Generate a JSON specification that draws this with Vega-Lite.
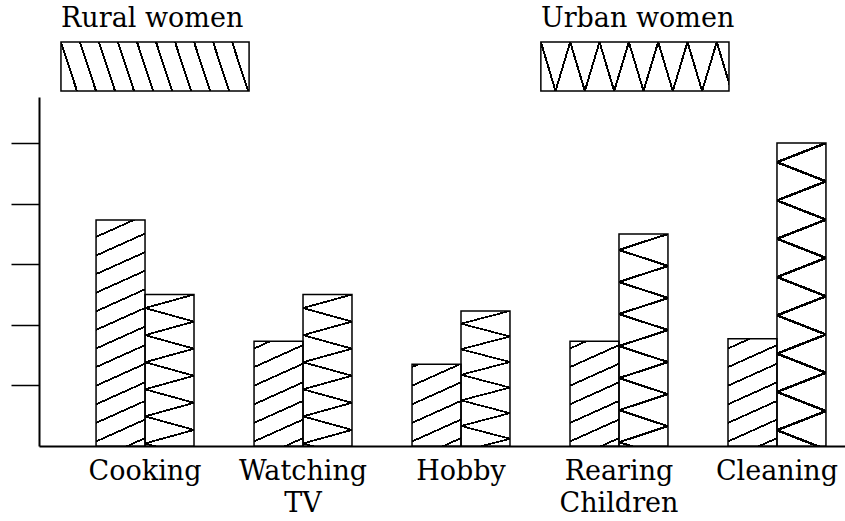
{
  "$schema": "https://vega.github.io/schema/vega-lite/v6.json",
  "padding": {"left": 10, "top": 4, "right": 0, "bottom": 0},
  "background": "white",
  "config": {"font": "DejaVu Serif", "view": {"stroke": null}, "concat": {"spacing": 5},
             "axis": {"labelFont": "DejaVu Serif", "labelLimit": 0}},
  "params": [
    {"name": "ruralStops", "value": [
      {"offset": 0, "color": "white"},
      {"offset": 0.0266, "color": "white"}, {"offset": 0.0266, "color": "black"}, {"offset": 0.0342, "color": "black"}, {"offset": 0.0342, "color": "white"},
      {"offset": 0.0980, "color": "white"}, {"offset": 0.0980, "color": "black"}, {"offset": 0.1056, "color": "black"}, {"offset": 0.1056, "color": "white"},
      {"offset": 0.1694, "color": "white"}, {"offset": 0.1694, "color": "black"}, {"offset": 0.1770, "color": "black"}, {"offset": 0.1770, "color": "white"},
      {"offset": 0.2408, "color": "white"}, {"offset": 0.2408, "color": "black"}, {"offset": 0.2484, "color": "black"}, {"offset": 0.2484, "color": "white"},
      {"offset": 0.3123, "color": "white"}, {"offset": 0.3123, "color": "black"}, {"offset": 0.3199, "color": "black"}, {"offset": 0.3199, "color": "white"},
      {"offset": 0.3837, "color": "white"}, {"offset": 0.3837, "color": "black"}, {"offset": 0.3913, "color": "black"}, {"offset": 0.3913, "color": "white"},
      {"offset": 0.4551, "color": "white"}, {"offset": 0.4551, "color": "black"}, {"offset": 0.4627, "color": "black"}, {"offset": 0.4627, "color": "white"},
      {"offset": 0.5266, "color": "white"}, {"offset": 0.5266, "color": "black"}, {"offset": 0.5342, "color": "black"}, {"offset": 0.5342, "color": "white"},
      {"offset": 0.5980, "color": "white"}, {"offset": 0.5980, "color": "black"}, {"offset": 0.6056, "color": "black"}, {"offset": 0.6056, "color": "white"},
      {"offset": 0.6694, "color": "white"}, {"offset": 0.6694, "color": "black"}, {"offset": 0.6770, "color": "black"}, {"offset": 0.6770, "color": "white"},
      {"offset": 0.7408, "color": "white"}, {"offset": 0.7408, "color": "black"}, {"offset": 0.7484, "color": "black"}, {"offset": 0.7484, "color": "white"},
      {"offset": 0.8123, "color": "white"}, {"offset": 0.8123, "color": "black"}, {"offset": 0.8199, "color": "black"}, {"offset": 0.8199, "color": "white"},
      {"offset": 0.8837, "color": "white"}, {"offset": 0.8837, "color": "black"}, {"offset": 0.8913, "color": "black"}, {"offset": 0.8913, "color": "white"},
      {"offset": 0.9551, "color": "white"}, {"offset": 0.9551, "color": "black"}, {"offset": 0.9627, "color": "black"}, {"offset": 0.9627, "color": "white"}
    ]},
    {"name": "urbanA", "value": [
      {"offset": 0, "color": "white"},
      {"offset": 0.0465, "color": "white"}, {"offset": 0.0465, "color": "black"}, {"offset": 0.0535, "color": "black"}, {"offset": 0.0535, "color": "white"},
      {"offset": 0.1465, "color": "white"}, {"offset": 0.1465, "color": "black"}, {"offset": 0.1535, "color": "black"}, {"offset": 0.1535, "color": "white"},
      {"offset": 0.2465, "color": "white"}, {"offset": 0.2465, "color": "black"}, {"offset": 0.2535, "color": "black"}, {"offset": 0.2535, "color": "white"},
      {"offset": 0.3465, "color": "white"}, {"offset": 0.3465, "color": "black"}, {"offset": 0.3535, "color": "black"}, {"offset": 0.3535, "color": "white"},
      {"offset": 0.4465, "color": "white"}, {"offset": 0.4465, "color": "black"}, {"offset": 0.4535, "color": "black"}, {"offset": 0.4535, "color": "white"},
      {"offset": 0.5465, "color": "white"}, {"offset": 0.5465, "color": "black"}, {"offset": 0.5535, "color": "black"}, {"offset": 0.5535, "color": "white"},
      {"offset": 0.6465, "color": "white"}, {"offset": 0.6465, "color": "black"}, {"offset": 0.6535, "color": "black"}, {"offset": 0.6535, "color": "white"},
      {"offset": 0.7465, "color": "white"}, {"offset": 0.7465, "color": "black"}, {"offset": 0.7535, "color": "black"}, {"offset": 0.7535, "color": "white"},
      {"offset": 0.8465, "color": "white"}, {"offset": 0.8465, "color": "black"}, {"offset": 0.8535, "color": "black"}, {"offset": 0.8535, "color": "white"},
      {"offset": 0.9465, "color": "white"}, {"offset": 0.9465, "color": "black"}, {"offset": 0.9535, "color": "black"}, {"offset": 0.9535, "color": "white"}
    ]},
    {"name": "urbanB", "value": [
      {"offset": 0, "color": "rgba(0,0,0,0)"},
      {"offset": 0.0965, "color": "rgba(0,0,0,0)"}, {"offset": 0.0965, "color": "black"}, {"offset": 0.1035, "color": "black"}, {"offset": 0.1035, "color": "rgba(0,0,0,0)"},
      {"offset": 0.1965, "color": "rgba(0,0,0,0)"}, {"offset": 0.1965, "color": "black"}, {"offset": 0.2035, "color": "black"}, {"offset": 0.2035, "color": "rgba(0,0,0,0)"},
      {"offset": 0.2965, "color": "rgba(0,0,0,0)"}, {"offset": 0.2965, "color": "black"}, {"offset": 0.3035, "color": "black"}, {"offset": 0.3035, "color": "rgba(0,0,0,0)"},
      {"offset": 0.3965, "color": "rgba(0,0,0,0)"}, {"offset": 0.3965, "color": "black"}, {"offset": 0.4035, "color": "black"}, {"offset": 0.4035, "color": "rgba(0,0,0,0)"},
      {"offset": 0.4965, "color": "rgba(0,0,0,0)"}, {"offset": 0.4965, "color": "black"}, {"offset": 0.5035, "color": "black"}, {"offset": 0.5035, "color": "rgba(0,0,0,0)"},
      {"offset": 0.5965, "color": "rgba(0,0,0,0)"}, {"offset": 0.5965, "color": "black"}, {"offset": 0.6035, "color": "black"}, {"offset": 0.6035, "color": "rgba(0,0,0,0)"},
      {"offset": 0.6965, "color": "rgba(0,0,0,0)"}, {"offset": 0.6965, "color": "black"}, {"offset": 0.7035, "color": "black"}, {"offset": 0.7035, "color": "rgba(0,0,0,0)"},
      {"offset": 0.7965, "color": "rgba(0,0,0,0)"}, {"offset": 0.7965, "color": "black"}, {"offset": 0.8035, "color": "black"}, {"offset": 0.8035, "color": "rgba(0,0,0,0)"},
      {"offset": 0.8965, "color": "rgba(0,0,0,0)"}, {"offset": 0.8965, "color": "black"}, {"offset": 0.9035, "color": "black"}, {"offset": 0.9035, "color": "rgba(0,0,0,0)"}
    ]},
    {"name": "legRural", "value": [
      {"offset": 0, "color": "white"},
      {"offset": 0.0734, "color": "white"}, {"offset": 0.0734, "color": "black"}, {"offset": 0.0834, "color": "black"}, {"offset": 0.0834, "color": "white"},
      {"offset": 0.1666, "color": "white"}, {"offset": 0.1666, "color": "black"}, {"offset": 0.1766, "color": "black"}, {"offset": 0.1766, "color": "white"},
      {"offset": 0.2597, "color": "white"}, {"offset": 0.2597, "color": "black"}, {"offset": 0.2697, "color": "black"}, {"offset": 0.2697, "color": "white"},
      {"offset": 0.3528, "color": "white"}, {"offset": 0.3528, "color": "black"}, {"offset": 0.3628, "color": "black"}, {"offset": 0.3628, "color": "white"},
      {"offset": 0.4460, "color": "white"}, {"offset": 0.4460, "color": "black"}, {"offset": 0.4560, "color": "black"}, {"offset": 0.4560, "color": "white"},
      {"offset": 0.5391, "color": "white"}, {"offset": 0.5391, "color": "black"}, {"offset": 0.5491, "color": "black"}, {"offset": 0.5491, "color": "white"},
      {"offset": 0.6323, "color": "white"}, {"offset": 0.6323, "color": "black"}, {"offset": 0.6423, "color": "black"}, {"offset": 0.6423, "color": "white"},
      {"offset": 0.7254, "color": "white"}, {"offset": 0.7254, "color": "black"}, {"offset": 0.7354, "color": "black"}, {"offset": 0.7354, "color": "white"},
      {"offset": 0.8185, "color": "white"}, {"offset": 0.8185, "color": "black"}, {"offset": 0.8285, "color": "black"}, {"offset": 0.8285, "color": "white"},
      {"offset": 0.9117, "color": "white"}, {"offset": 0.9117, "color": "black"}, {"offset": 0.9217, "color": "black"}, {"offset": 0.9217, "color": "white"}
    ]},
    {"name": "legUrbanA", "value": [
      {"offset": 0, "color": "white"},
      {"offset": 0.0664, "color": "white"}, {"offset": 0.0664, "color": "black"}, {"offset": 0.0764, "color": "black"}, {"offset": 0.0764, "color": "white"},
      {"offset": 0.2093, "color": "white"}, {"offset": 0.2093, "color": "black"}, {"offset": 0.2193, "color": "black"}, {"offset": 0.2193, "color": "white"},
      {"offset": 0.3521, "color": "white"}, {"offset": 0.3521, "color": "black"}, {"offset": 0.3621, "color": "black"}, {"offset": 0.3621, "color": "white"},
      {"offset": 0.4950, "color": "white"}, {"offset": 0.4950, "color": "black"}, {"offset": 0.5050, "color": "black"}, {"offset": 0.5050, "color": "white"},
      {"offset": 0.6379, "color": "white"}, {"offset": 0.6379, "color": "black"}, {"offset": 0.6479, "color": "black"}, {"offset": 0.6479, "color": "white"},
      {"offset": 0.7807, "color": "white"}, {"offset": 0.7807, "color": "black"}, {"offset": 0.7907, "color": "black"}, {"offset": 0.7907, "color": "white"},
      {"offset": 0.9236, "color": "white"}, {"offset": 0.9236, "color": "black"}, {"offset": 0.9336, "color": "black"}, {"offset": 0.9336, "color": "white"}
    ]},
    {"name": "legUrbanB", "value": [
      {"offset": 0, "color": "rgba(0,0,0,0)"},
      {"offset": 0.1379, "color": "rgba(0,0,0,0)"}, {"offset": 0.1379, "color": "black"}, {"offset": 0.1479, "color": "black"}, {"offset": 0.1479, "color": "rgba(0,0,0,0)"},
      {"offset": 0.2807, "color": "rgba(0,0,0,0)"}, {"offset": 0.2807, "color": "black"}, {"offset": 0.2907, "color": "black"}, {"offset": 0.2907, "color": "rgba(0,0,0,0)"},
      {"offset": 0.4236, "color": "rgba(0,0,0,0)"}, {"offset": 0.4236, "color": "black"}, {"offset": 0.4336, "color": "black"}, {"offset": 0.4336, "color": "rgba(0,0,0,0)"},
      {"offset": 0.5664, "color": "rgba(0,0,0,0)"}, {"offset": 0.5664, "color": "black"}, {"offset": 0.5764, "color": "black"}, {"offset": 0.5764, "color": "rgba(0,0,0,0)"},
      {"offset": 0.7093, "color": "rgba(0,0,0,0)"}, {"offset": 0.7093, "color": "black"}, {"offset": 0.7193, "color": "black"}, {"offset": 0.7193, "color": "rgba(0,0,0,0)"},
      {"offset": 0.8521, "color": "rgba(0,0,0,0)"}, {"offset": 0.8521, "color": "black"}, {"offset": 0.8621, "color": "black"}, {"offset": 0.8621, "color": "rgba(0,0,0,0)"}
    ]}
  ],
  "vconcat": [
    {
      "width": 807,
      "height": 49,
      "data": {"values": [{"series": "Rural women"}, {"series": "Urban women"}]},
      "encoding": {
        "x": {
          "field": "series", "type": "nominal", "sort": null,
          "scale": {"paddingInner": 0.608, "paddingOuter": 0.1448, "align": 0.158},
          "axis": {"orient": "top", "title": null, "ticks": false, "domain": false,
                   "labelAlign": "left", "labelOffset": -94, "labelAngle": 0, "labelFontSize": 27,
                   "labelFont": "DejaVu Serif", "labelColor": "black", "labelLimit": 0,
                   "labelPadding": 16, "labelBaseline": "alphabetic", "labelFlush": false, "labelOverlap": false}
        }
      },
      "layer": [
        {"mark": {"type": "rect", "strokeWidth": 0,
          "fill": {"expr": "datum.series == 'Rural women' ? {gradient: 'linear', x1: 0, y1: 1, x2: 1.0773, y2: 0.90832, stops: legRural} : {gradient: 'linear', x1: 0, y1: 1, x2: 1.08438, y2: 0.9155, stops: legUrbanA}"}}},
        {"mark": {"type": "rect", "stroke": "black", "strokeWidth": 1.5,
          "fill": {"expr": "datum.series == 'Urban women' ? {gradient: 'linear', x1: 0, y1: 0, x2: 1.08438, y2: 0.0845, stops: legUrbanB} : 'rgba(0,0,0,0)'"}}}
      ]
    },
    {
      "width": 807,
      "height": 349,
      "data": {"values": [
        {"category": "Cooking", "series": "Rural women", "value": 3.73},
        {"category": "Cooking", "series": "Urban women", "value": 2.5},
        {"category": "Watching TV", "series": "Rural women", "value": 1.73},
        {"category": "Watching TV", "series": "Urban women", "value": 2.5},
        {"category": "Hobby", "series": "Rural women", "value": 1.35},
        {"category": "Hobby", "series": "Urban women", "value": 2.23},
        {"category": "Rearing Children", "series": "Rural women", "value": 1.73},
        {"category": "Rearing Children", "series": "Urban women", "value": 3.5},
        {"category": "Cleaning", "series": "Rural women", "value": 1.77},
        {"category": "Cleaning", "series": "Urban women", "value": 5.0}
      ]},
      "encoding": {
        "x": {
          "field": "category", "type": "nominal", "sort": null,
          "scale": {"paddingInner": 0.38, "paddingOuter": 0.244, "align": 0.74},
          "axis": {"title": null, "ticks": false, "domainColor": "black", "domainWidth": 2,
                   "labelAngle": 0, "labelFontSize": 27, "labelFont": "DejaVu Serif", "labelColor": "black", "labelPadding": 12,
                   "labelLimit": 0, "labelLineHeight": 32, "labelExpr": "split(datum.label, ' ')"}
        },
        "xOffset": {"field": "series", "type": "nominal", "sort": null, "scale": {"paddingInner": 0, "paddingOuter": 0}},
        "y": {
          "field": "value", "type": "quantitative",
          "scale": {"domain": [0, 5.76], "nice": false},
          "axis": {"title": null, "labels": false, "values": [1, 2, 3, 4, 5], "tickSize": 28, "tickWidth": 1.5,
                   "tickColor": "black", "domainColor": "black", "domainWidth": 2, "grid": false}
        }
      },
      "layer": [
        {"mark": {"type": "bar", "strokeWidth": 0,
          "fill": {"expr": "datum.series == 'Rural women' ? {gradient: 'linear', x1: 1, y1: 1, x2: 1 - 5728.8/(484 + pow(datum.value*60.6, 2)), y2: 1 - 260.4*datum.value*60.6/(484 + pow(datum.value*60.6, 2)), stops: ruralStops} : {gradient: 'linear', x1: 0, y1: 0, x2: 24.2/(1.21 + datum.value*60.6), y2: 22*sqrt(datum.value*60.6)/(1.21 + datum.value*60.6), stops: urbanA}"}}},
        {"mark": {"type": "bar", "stroke": "black", "strokeWidth": 1.5,
          "fill": {"expr": "datum.series == 'Urban women' ? {gradient: 'linear', x1: 1, y1: 0, x2: 1 - 24.2/(1.21 + datum.value*60.6), y2: 22*sqrt(datum.value*60.6)/(1.21 + datum.value*60.6), stops: urbanB} : 'rgba(0,0,0,0)'"}}}
      ]
    }
  ]
}
